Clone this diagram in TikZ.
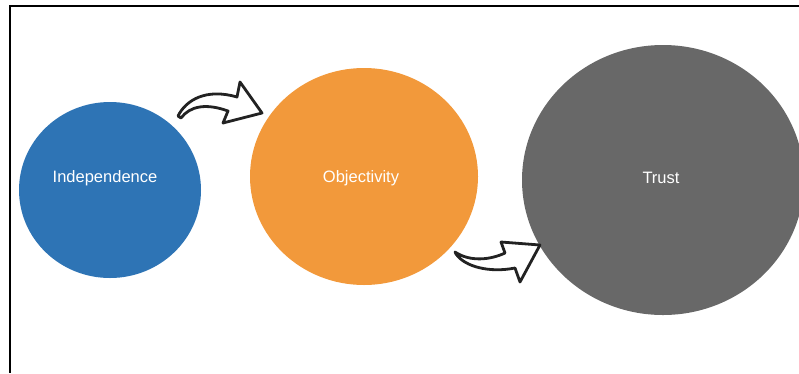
\documentclass[tikz,border=0pt]{standalone}
\usepackage{fontspec}
\setmainfont{Liberation Sans}
\usetikzlibrary{shapes.geometric}
\definecolor{indepblue}{HTML}{2E74B5}
\definecolor{objorange}{HTML}{F2993B}
\definecolor{trustgray}{HTML}{686868}
\definecolor{arrowink}{HTML}{222222}
\begin{document}
\begin{tikzpicture}[x=1pt,y=-1pt,
  blob/.style={ellipse,inner sep=0pt,draw=none},
  caption/.style={text=white,font=\fontsize{16.5}{18}\selectfont,inner sep=0pt},
  flowarrow/.style={draw=arrowink,fill=white,line width=2.8pt,line join=round}]
  \useasboundingbox (0,0) rectangle (799,373);
  % frame
  \draw[line width=2.6pt,black] (799,6) -- (10,6) -- (10,373);
  % circles
  \node[blob,fill=indepblue,minimum width=182pt,minimum height=176pt] (indep) at (110,190) {};
  \node[blob,fill=objorange,minimum width=228pt,minimum height=217pt] (obj) at (364,176.5) {};
  \node[blob,fill=trustgray,minimum width=282pt,minimum height=270pt] (trust) at (663,180) {};
  % labels
  \node[caption] (tindep) at (105,178) {Independence};
  \node[caption] (tobj) at (361,178) {Objectivity};
  \node[caption] (ttrust) at (661,178) {Trust};
  % curved block arrows
  \draw[flowarrow] (178,116) .. controls (186,100) and (206,88) .. (237,97)
    -- (240,82) -- (262,113) -- (223,123) -- (228,111)
    .. controls (206,103) and (190,106) .. (181,118) -- cycle;
  \draw[flowarrow] (455,252) .. controls (470,262) and (490,260) .. (505,253)
    -- (501,242) -- (540,245) -- (520,282) -- (515,268)
    .. controls (490,273) and (465,267) .. (456,254) -- cycle;
\end{tikzpicture}
\end{document}
